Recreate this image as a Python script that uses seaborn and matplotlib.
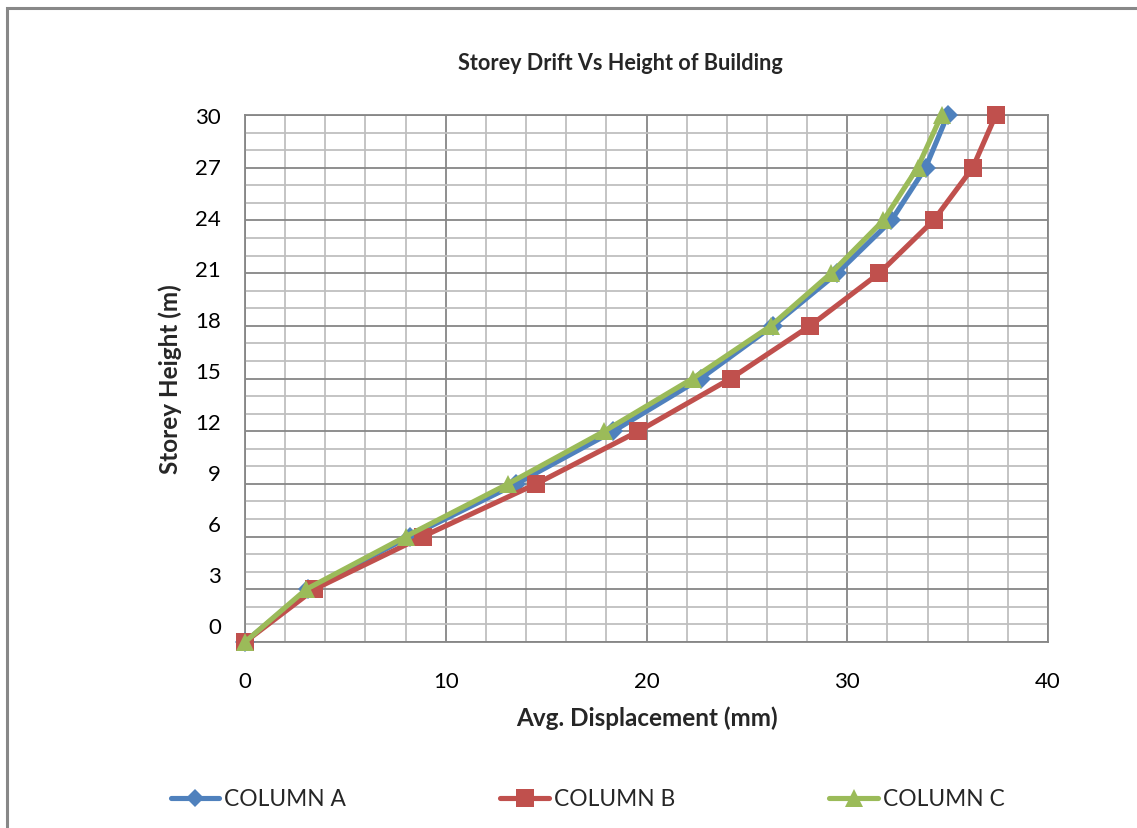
import numpy as np
import pandas as pd
import matplotlib
matplotlib.use("Agg")
import matplotlib.pyplot as plt
from matplotlib.patches import Rectangle
from matplotlib.ticker import MultipleLocator
import seaborn as sns

# ---- data ----
heights = [0, 3, 6, 9, 12, 15, 18, 21, 24, 27, 30]
column_a = [0, 3.15, 8.2, 13.5, 18.35, 22.7, 26.3, 29.5, 32.2, 33.9, 35.0]
column_b = [0, 3.45, 8.85, 14.5, 19.6, 24.2, 28.15, 31.6, 34.3, 36.25, 37.4]
column_c = [0, 3.05, 8.0, 13.1, 17.9, 22.3, 26.2, 29.2, 31.8, 33.5, 34.7]
series_names = ["COLUMN A", "COLUMN B", "COLUMN C"]
y_tick_values = [0, 3, 6, 9, 12, 15, 18, 21, 24, 27, 30]
x_tick_values = [0, 10, 20, 30, 40]

title = "Storey Drift Vs Height of Building"
xlabel = "Avg. Displacement (mm)"
ylabel = "Storey Height (m)"

colors = {"COLUMN A": "#4F81BD", "COLUMN B": "#C0504D", "COLUMN C": "#9BBB59"}
markers = {"COLUMN A": "D", "COLUMN B": "s", "COLUMN C": "^"}
msizes = {"COLUMN A": 10, "COLUMN B": 13.5, "COLUMN C": 13}

df = pd.concat([
    pd.DataFrame({"disp": vals, "height": heights, "series": name})
    for name, vals in zip(series_names, [column_a, column_b, column_c])
], ignore_index=True)

sns.set_theme(style="white")
FONT = ["Lato", "DejaVu Sans"]
plt.rcParams["font.family"] = FONT

W, H = 1137, 829
fig = plt.figure(figsize=(W / 100, H / 100), dpi=100)
ax = fig.add_axes([245 / W, 1 - 643 / H, (1048 - 245) / W, (643 - 116) / H])

for name in series_names:
    sub = df[df["series"] == name]
    sns.lineplot(data=sub, x="disp", y="height", sort=False, ax=ax,
                 color=colors[name], marker=markers[name], markersize=msizes[name],
                 markeredgewidth=0, linewidth=3.7, label=name, clip_on=False,
                 estimator=None, legend=False, zorder=3)

ax.set_xlim(0, 40)
ax.set_ylim(0, 30)
ax.xaxis.set_major_locator(MultipleLocator(10))
ax.xaxis.set_minor_locator(MultipleLocator(2))
ax.yaxis.set_major_locator(MultipleLocator(3))
ax.yaxis.set_minor_locator(MultipleLocator(1))
ax.grid(which="minor", color="#BFBFBF", linewidth=1.3)
ax.grid(which="major", color="#868686", linewidth=1.3)
ax.set_axisbelow(True)
ax.tick_params(which="both", length=0)
for s in ax.spines.values():
    s.set_color("#868686")
    s.set_linewidth(1.3)

ax.set_xticks(x_tick_values)
ax.set_xticklabels([str(v) for v in x_tick_values], fontsize=16, color="black")
ax.tick_params(axis="x", pad=21)
ax.set_yticks(y_tick_values)
ax.set_yticklabels([])
# y tick labels (Excel places them with a slight drift relative to the gridlines)
for v in y_tick_values:
    ax.text(-0.03, 0.854 + 0.968 * v, str(v), transform=ax.get_yaxis_transform(),
            ha="right", va="center", fontsize=16, color="black")

ax.set_xlabel(xlabel, fontsize=17.5, fontweight="bold", labelpad=10)
ax.set_ylabel(ylabel, fontsize=17.5, fontweight="bold", labelpad=42)
fig.text(620 / W, 1 - 64 / H, title, ha="center", va="center",
         fontsize=15.6, fontweight="bold")

handles = [plt.Line2D([], [], color=colors[n], marker=markers[n], markersize=msizes[n] * 0.95,
                      markeredgewidth=0, linewidth=3.7) for n in series_names]
fig.legend(handles, series_names, loc="center left", bbox_to_anchor=(150 / W, 1 - 800 / H),
           ncol=3, frameon=False, fontsize=16.4, handlelength=2.15, columnspacing=6.75,
           handletextpad=0.22)

fig.patches.append(Rectangle((7 / W, -0.2), 1.5, 1.2 - 9 / H, transform=fig.transFigure,
                             fill=False, edgecolor="#888888", linewidth=2.2))

fig.savefig("out.png", dpi=100)
